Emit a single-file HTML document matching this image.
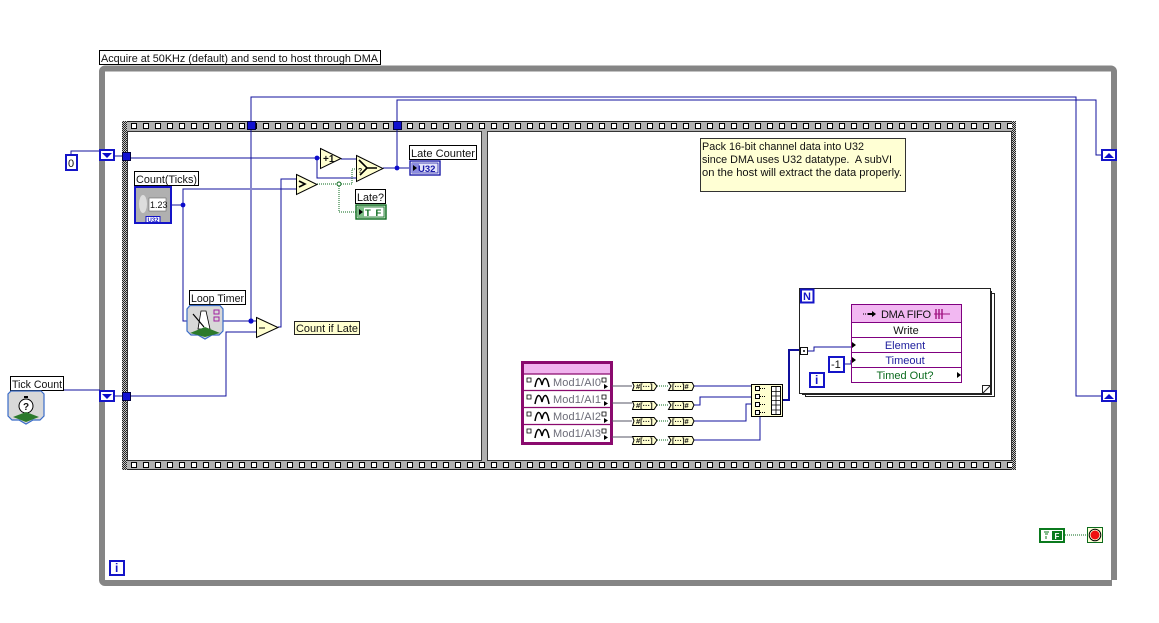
<!DOCTYPE html>
<html><head><meta charset="utf-8"><style>
html,body{margin:0;padding:0;background:#fff;width:1159px;height:623px;overflow:hidden}
svg{display:block}
text{font-family:"Liberation Sans",sans-serif;font-size:11px;fill:#111;white-space:pre}
.w{fill:none;stroke:#10109c;stroke-width:1;shape-rendering:crispEdges}
.g{fill:none;stroke:#0b6b1e;stroke-width:1;stroke-dasharray:1 1;shape-rendering:crispEdges}
.lab{fill:#fff;stroke:#000;stroke-width:1}
.node{fill:#ffffd0;stroke:#000;stroke-width:1}
.t{fill:#1010d0;stroke:#000040;stroke-width:1}
.sr{fill:#fff;stroke:#1414c8;stroke-width:2}
.row{fill:#fff;stroke:#800080;stroke-width:1}
</style></head><body>
<svg width="1159" height="623" viewBox="0 0 1159 623" xmlns="http://www.w3.org/2000/svg">
<defs>
<pattern id="sq" x="128" y="121" width="12" height="11" patternUnits="userSpaceOnUse"><rect x="3.5" y="2.5" width="5" height="5" fill="#fff" stroke="#000"/></pattern>
<pattern id="sqb" x="128" y="460" width="12" height="10" patternUnits="userSpaceOnUse"><rect x="3.5" y="2.5" width="5" height="5" fill="#fff" stroke="#000"/></pattern>
<pattern id="ck" width="2" height="2" patternUnits="userSpaceOnUse"><rect width="2" height="2" fill="#c4c4c4"/><rect width="1" height="1" fill="#222"/><rect x="1" y="1" width="1" height="1" fill="#222"/></pattern>
</defs>

<!-- while loop -->
<rect x="102" y="68.5" width="1012" height="514.5" rx="3" fill="#fff" stroke="#858585" stroke-width="6"/>
<rect x="1112" y="579" width="6" height="8" fill="#fff"/>
<rect x="1111" y="575" width="6" height="5" fill="#858585"/>
<rect class="lab" x="99.5" y="50.5" width="281" height="14"/>
<text x="101" y="62" textLength="277" lengthAdjust="spacingAndGlyphs">Acquire at 50KHz (default) and send to host through DMA</text>

<!-- flat sequence -->
<rect x="122" y="121" width="894" height="349" fill="#b0b0b0"/>
<rect x="122" y="121" width="894" height="1" fill="#222"/>
<rect x="122" y="469" width="894" height="1" fill="#222"/>
<rect x="122" y="121" width="5" height="349" fill="url(#ck)"/>
<rect x="1012" y="121" width="4" height="349" fill="url(#ck)"/>
<rect x="128" y="121" width="884" height="11" fill="url(#sq)"/>
<rect x="128" y="460" width="884" height="10" fill="url(#sqb)"/>
<rect x="127.5" y="131.5" width="354" height="329" fill="#fff" stroke="#333"/>
<rect x="487.5" y="131.5" width="524" height="329" fill="#fff" stroke="#333"/>

<!-- wires -->
<path class="w" d="M71 155V151H100M115 156H123M131 158H320M341 159H356M317 158V178H356M383 168H409"/>
<path class="w" d="M397 168V100H1096V155H1102"/>
<path class="w" d="M251 321V97H1076V396H1102"/>
<path class="w" d="M172 205H183M183 205V189H250M252 189H296M183 205V321H187M223 321H256"/>
<path class="w" d="M278 327H281V179H296"/>
<path class="w" d="M44 390H100M115 396H123M131 396H226V332H256"/>
<path class="g" d="M317 184H352V169H357M339 184V212H356M1065 535H1087"/>
<circle cx="317" cy="158" r="2.4" fill="#0c0ccc"/><circle cx="397" cy="168" r="2.4" fill="#0c0ccc"/>
<circle cx="183" cy="205" r="2.4" fill="#0c0ccc"/><circle cx="251" cy="321" r="2.6" fill="#0c0ccc"/>
<circle cx="339" cy="184" r="2" fill="#fff" stroke="#0b6b1e"/>

<!-- tunnels -->
<rect class="t" x="122.5" y="152.5" width="8" height="8"/><rect class="t" x="122.5" y="392.5" width="8" height="8"/>
<rect class="t" x="247.5" y="121.5" width="8" height="8"/><rect class="t" x="393.5" y="121.5" width="8" height="8"/>

<!-- shift registers -->
<rect class="sr" x="100" y="150" width="14" height="10"/><path d="M102 153H112L107 158Z" fill="#0c0ccc"/>
<rect class="sr" x="100" y="391" width="14" height="10"/><path d="M102 394H112L107 399Z" fill="#0c0ccc"/>
<rect class="sr" x="1102" y="150" width="14" height="10"/><path d="M1104 158H1114L1109 153Z" fill="#0c0ccc"/>
<rect class="sr" x="1102" y="391" width="14" height="10"/><path d="M1104 399H1114L1109 394Z" fill="#0c0ccc"/>

<!-- constant 0 -->
<rect x="66" y="155" width="11" height="15" fill="#fff" stroke="#1414c8" stroke-width="2"/>
<text x="68" y="167">0</text>

<!-- count ticks -->
<rect class="lab" x="134.5" y="171.5" width="64" height="14"/>
<text x="136" y="183" textLength="61" lengthAdjust="spacingAndGlyphs">Count(Ticks)</text>
<rect x="135" y="187" width="36" height="36" fill="#b0b0b0" stroke="#1414c8" stroke-width="2"/>
<ellipse cx="143" cy="204" rx="4" ry="9" fill="#ddd"/>
<rect x="149" y="198" width="17" height="13" fill="#fff" stroke="#666" stroke-width=".6"/>
<text x="150" y="208" style="font-size:9px">1.23</text>
<rect x="146" y="216.5" width="14" height="6" fill="#fff" stroke="#1414c8"/>
<text x="147.5" y="222" style="font-size:6px;font-weight:bold;fill:#1414c8">U32</text>

<!-- arith -->
<path class="node" d="M320.5 148.5L341 158.5L320.5 168.5Z"/><text x="323" y="162" style="font-size:10px;font-weight:bold">+1</text>
<path class="node" d="M356.5 155.5L383 168.5L356.5 181.5Z"/><path d="M359 160L367 168H377M367 168L360 175" fill="none" stroke="#000" stroke-width="1.6"/>
<text x="358" y="173" style="font-size:7px;font-weight:bold">?</text>
<path class="node" d="M296.5 174.5L317 184.5L296.5 194.5Z"/><path d="M299 181L305 184L299 187" fill="none" stroke="#000" stroke-width="1.6"/>
<path class="node" d="M256.5 317.5L278 327.5L256.5 337.5Z"/><path d="M259 328H265" stroke="#000"/>

<!-- late counter -->
<rect class="lab" x="409.5" y="145.5" width="67" height="14"/>
<text x="411" y="157" textLength="64" lengthAdjust="spacingAndGlyphs">Late Counter</text>
<rect x="410" y="161" width="30" height="14" fill="#fff" stroke="#1c1ca8" stroke-width="1.4"/>
<rect x="412" y="163" width="26" height="10" fill="#e4e4fa" stroke="#1c1ca8" stroke-width=".8"/>
<rect x="412" y="163" width="7" height="10" fill="#8c8ce0"/><path d="M413 165L417 168L413 171Z" fill="#000"/>
<text x="418" y="172" style="font-size:9.5px;font-weight:bold;fill:#1c1ca8">U32</text>

<!-- late -->
<rect class="lab" x="355.5" y="189.5" width="30" height="14"/><text x="357" y="201" textLength="27" lengthAdjust="spacingAndGlyphs">Late?</text>
<rect x="356" y="205" width="30" height="14" fill="#cfe8cf" stroke="#0b6b1e" stroke-width="1.4"/>
<rect x="358" y="207" width="26" height="10" fill="#fff" stroke="#0b6b1e" stroke-width=".8"/>
<rect x="358" y="207" width="6" height="10" fill="#7cbf86"/><path d="M359 209L363 212L359 215Z" fill="#000"/>
<text x="365" y="216" style="font-size:9.5px;font-weight:bold;fill:#0b6b1e;letter-spacing:1px">T F</text>

<!-- loop timer -->
<rect class="lab" x="189.5" y="290.5" width="56" height="14"/><text x="191" y="302" textLength="53" lengthAdjust="spacingAndGlyphs">Loop Timer</text>
<path d="M190 305.5H220L223 309V331L219 335L212 335L205 339L198 335L191 335L187 331V309Z" fill="#d8d8d8" stroke="#3a6cc8" stroke-width="1.2"/>
<path d="M198 329L201 311H206L210 329Z" fill="#fff" stroke="#000" stroke-width=".8"/>
<path d="M193 314L204 327" stroke="#000" stroke-width="1.2"/>
<path d="M190 333L205 327L220 333L205 337Z" fill="#2c7a2c"/>
<path d="M214 310H219V314H214ZM214 317H219V321H214Z" fill="none" stroke="#a020a0"/>
<!-- count if late -->
<rect x="294.5" y="321.5" width="65" height="13" fill="#ffffd0" stroke="#222"/>
<text x="296" y="332" textLength="62" lengthAdjust="spacingAndGlyphs">Count if Late</text>

<!-- tick count -->
<rect class="lab" x="10.5" y="376.5" width="53" height="14"/><text x="12" y="388" textLength="50" lengthAdjust="spacingAndGlyphs">Tick Count</text>
<path d="M11 391H41L44 394V416L40 420L33 420L26 424L19 420L12 420L8 416V394Z" fill="#d8d8d8" stroke="#3a6cc8" stroke-width="1.2"/>
<circle cx="26" cy="406" r="7" fill="#fff" stroke="#000"/><text x="23" y="410" style="font-size:10px;font-weight:bold">?</text>
<rect x="24" y="396" width="4" height="2" fill="#000"/>
<path d="M13 417L26 412L39 417L26 422Z" fill="#2c7a2c"/>

<!-- note -->
<rect x="700.5" y="138.5" width="205" height="53" fill="#ffffd4" stroke="#333"/>
<text x="702" y="150" textLength="162" lengthAdjust="spacingAndGlyphs">Pack 16-bit channel data into U32</text>
<text x="702" y="163" textLength="190" lengthAdjust="spacingAndGlyphs">since DMA uses U32 datatype.  A subVI</text>
<text x="702" y="176" textLength="200" lengthAdjust="spacingAndGlyphs">on the host will extract the data properly.</text>

<!-- Mod block -->
<rect x="522.5" y="362.5" width="89" height="81" fill="#fff" stroke="#8a0a6e" stroke-width="3"/>
<rect x="524" y="364" width="86" height="10" fill="#f0b4ee"/>
<path d="M524 374H610M524 390.5H610M524 407.5H610M524 424.5H610" stroke="#8a0a6e" stroke-width="1.2"/>
<g fill="none" stroke="#000" stroke-width="1.5">
<path d="M535 387C537 376 540 376 542 385C544 376 547 376 549 387"/>
<path d="M535 404C537 393 540 393 542 402C544 393 547 393 549 404"/>
<path d="M535 421C537 410 540 410 542 419C544 410 547 410 549 421"/>
<path d="M535 438C537 427 540 427 542 436C544 427 547 427 549 438"/>
</g>
<text x="553" y="386" style="fill:#6c6c78" textLength="48">Mod1/AI0</text>
<text x="553" y="403" style="fill:#6c6c78" textLength="48">Mod1/AI1</text>
<text x="553" y="420" style="fill:#6c6c78" textLength="48">Mod1/AI2</text>
<text x="553" y="437" style="fill:#6c6c78" textLength="48">Mod1/AI3</text>
<path d="M604 384L608 386.5L604 389ZM604 401L608 403.5L604 406ZM604 418L608 420.5L604 423ZM604 435L608 437.5L604 440Z" fill="#000"/>
<path d="M527 378H531V382H527ZM527 395H531V399H527ZM527 412H531V416H527ZM527 429H531V433H527ZM602 378H606V382H602ZM602 395H606V399H602ZM602 412H606V416H602ZM602 429H606V433H602Z" fill="#fff" stroke="#000" stroke-width=".8"/>

<path d="M612 386H632M612 403H632M612 421H632M612 437H632" stroke="#556" stroke-width="1" fill="none" shape-rendering="crispEdges"/>
<path d="M657 386H668M657 405H668M657 421H668M657 440H668" class="g"/>
<path class="w" d="M694 386H751M694 405H700V397H751M694 421H746V404H751M694 440H760V417"/>
<g fill="#ffffd0" stroke="#000" stroke-width="1">
<path d="M632.5 382.5H654L657 386L654 390.5H632.5L634 386ZM632.5 401.5H654L657 405L654 409.5H632.5L634 405ZM632.5 417.5H654L657 421L654 425.5H632.5L634 421ZM632.5 436.5H654L657 440L654 444.5H632.5L634 440Z"/>
<path d="M668.5 382.5H692L694 386L692 390.5H668.5L671 386ZM668.5 401.5H692L694 405L692 409.5H668.5L671 405ZM668.5 417.5H692L694 421L692 425.5H668.5L671 421ZM668.5 436.5H692L694 440L692 444.5H668.5L671 440Z"/>
</g>
<text x="636" y="389" style="font-size:7.5px;font-weight:bold">#[···]</text><text x="636" y="408" style="font-size:7.5px;font-weight:bold">#[···]</text><text x="636" y="424" style="font-size:7.5px;font-weight:bold">#[···]</text><text x="636" y="443" style="font-size:7.5px;font-weight:bold">#[···]</text>
<text x="672" y="389" style="font-size:7.5px;font-weight:bold">[···]#</text><text x="672" y="408" style="font-size:7.5px;font-weight:bold">[···]#</text><text x="672" y="424" style="font-size:7.5px;font-weight:bold">[···]#</text><text x="672" y="443" style="font-size:7.5px;font-weight:bold">[···]#</text>

<!-- build array -->
<rect class="node" x="751.5" y="384.5" width="31" height="32"/>
<path d="M755.5 386.5h4v4h-4zM755.5 394.5h4v4h-4zM755.5 402.5h4v4h-4zM755.5 410.5h4v4h-4z" fill="#fff" stroke="#000"/>
<path d="M760 388.5h6M760 396.5h6M760 404.5h6M760 412.5h6" stroke="#000" stroke-dasharray="1 1"/>
<rect x="771.5" y="386.5" width="9" height="28" fill="#fff" stroke="#000"/>
<path d="M776 387V414M772 391.5H781M772 396H781M772 400.5H781M772 405H781M772 410H781" stroke="#000" stroke-width=".8"/>
<path d="M783 400H789V350H800" fill="none" stroke="#10109c" stroke-width="2"/>

<!-- for loop -->
<rect x="805.5" y="293.5" width="189" height="103" fill="#fff" stroke="#222"/>
<rect x="802.5" y="291.5" width="189" height="103" fill="#fff" stroke="#222"/>
<rect x="799.5" y="288.5" width="191" height="105" fill="#fff" stroke="#222"/>
<path d="M982.5 393.5V385.5H990.5Z" fill="#fff" stroke="#222"/>
<rect x="801" y="289.5" width="12.5" height="13" fill="#fff" stroke="#1414c8" stroke-width="2"/>
<text x="803" y="300" style="font-size:11px;font-weight:bold;fill:#1414c8">N</text>
<rect x="810" y="373" width="14" height="14" fill="#fff" stroke="#1414c8" stroke-width="2"/>
<text x="815" y="384" style="font-size:12px;font-weight:bold;fill:#1414c8">i</text>
<rect x="800.5" y="347.5" width="7" height="7" fill="#fff" stroke="#111"/><rect x="803" y="350" width="2" height="2" fill="#444"/>
<path class="w" d="M808 351H814V347H851M845 364H851V360"/>
<rect x="829" y="357" width="15" height="15" fill="#fff" stroke="#1414c8" stroke-width="2"/>
<text x="831" y="368">-1</text>

<!-- DMA -->
<rect x="851.5" y="304.5" width="110" height="78" fill="#fff" stroke="#800080"/>
<rect x="852" y="305" width="109" height="17" fill="#f2b8f2"/>
<path d="M852 322.5H962M852 337.5H962M852 352.5H962M852 367.5H962" stroke="#800080"/>
<path d="M863 314H871" stroke="#000" stroke-dasharray="1 1"/><path d="M868 314H872" stroke="#000" stroke-width="2"/><path d="M872 311L876 314L872 317Z" fill="#000"/>
<text x="881" y="318" textLength="50">DMA FIFO</text>
<path d="M936 309V319M939 309V319M942 309V319" stroke="#a01080" stroke-width="1.4"/><path d="M934 314H950" stroke="#a01080"/>
<text x="906" y="334" text-anchor="middle">Write</text>
<text x="905" y="349" text-anchor="middle" style="fill:#1c1c9c">Element</text>
<text x="905" y="364" text-anchor="middle" style="fill:#1c1c9c">Timeout</text>
<text x="905" y="379" text-anchor="middle" style="fill:#0b6b1e">Timed Out?</text>
<path d="M852 342L856 345L852 348ZM852 357L856 360L852 363ZM957 372L961 375L957 378Z" fill="#000"/>

<!-- stop -->
<rect x="1040" y="529" width="24" height="13" fill="#fff" stroke="#0b7a1e" stroke-width="2"/>
<rect x="1052" y="531" width="10" height="9" fill="#0b7a1e"/><text x="1054.5" y="539" style="font-size:8px;font-weight:bold;fill:#fff">F</text>
<path d="M1044 532H1049M1045 534H1048M1046 536V539" stroke="#0b7a1e"/>
<rect x="1087.5" y="527.5" width="15" height="15" fill="#ffffd8" stroke="#0b6b1e"/>
<circle cx="1095" cy="535" r="5.8" fill="none" stroke="#000"/><circle cx="1095" cy="535" r="4.5" fill="#f01010"/>

<!-- i -->
<rect x="110" y="561" width="14" height="14" fill="#fff" stroke="#1414c8" stroke-width="2"/>
<text x="115" y="572" style="font-size:12px;font-weight:bold;fill:#1414c8">i</text>
</svg>
</body></html>
